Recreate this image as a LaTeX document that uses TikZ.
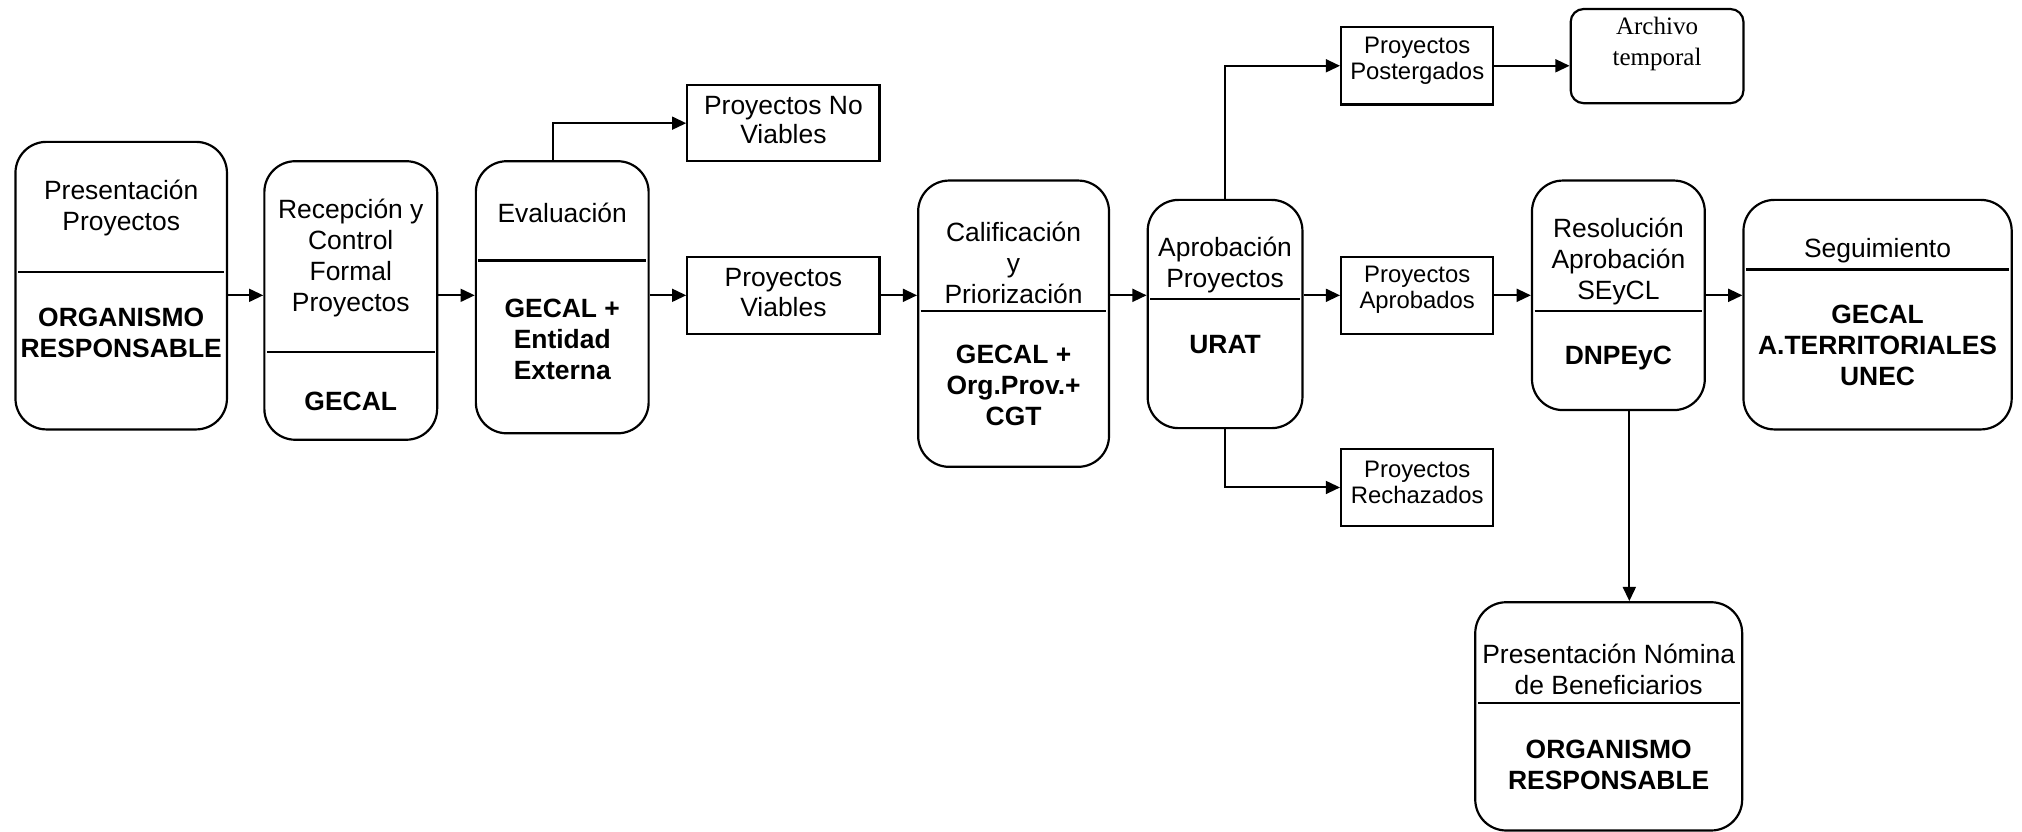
\documentclass[tikz,border=0pt]{standalone}
\usepackage{fontspec}
\setmainfont{Liberation Sans}
\newfontfamily\serifarch{Liberation Serif}
\usetikzlibrary{arrows.meta}
\begin{document}
\begin{tikzpicture}[x=0.5pt,y=-0.5pt,
 rbox/.style={draw,line width=0.85pt,rounded corners=12pt,inner sep=0pt},
 sbox/.style={draw,line width=0.85pt,inner sep=0pt},
 up/.style={inner sep=0pt,align=center,font=\fontsize{10.25}{12}\selectfont},
 low/.style={inner sep=0pt,align=center,font=\fontsize{10.25}{12}\selectfont\bfseries},
 mid/.style={inner sep=0pt,align=center,font=\fontsize{10.25}{11.5}\selectfont},
 sm/.style={inner sep=0pt,align=center,font=\fontsize{9.25}{10}\selectfont},
 arr/.style={line width=0.8pt,-{Triangle[length=5.5pt,width=5pt]}},
 div/.style={line width=0.85pt}]
\useasboundingbox (0,0) rectangle (1568,645);

% Presentacion Proyectos
\node[rbox,minimum width=82pt,minimum height=111.5pt] (b1) at (94,221.5) {};
\node[up] (b1t) at (94,161) {Presentación\\Proyectos};
\node[low] (b1b) at (94,258) {ORGANISMO\\RESPONSABLE};
\draw[div] (14,211) -- (174,211);

% Recepcion
\node[rbox,minimum width=67pt,minimum height=108pt] (b2) at (272,233) {};
\node[up] (b2t) at (272,200) {Recepción y\\Control\\Formal\\Proyectos};
\node[low] (b2b) at (272,311) {GECAL};
\draw[div] (207,273) -- (337,273);

% Evaluacion
\node[rbox,minimum width=67pt,minimum height=105.5pt] (b3) at (436,230.5) {};
\node[up] (b3t) at (436,165) {Evaluación};
\node[low] (b3b) at (436,263) {GECAL +\\Entidad\\Externa};
\draw[div] (371,202) -- (501,202);

% No viables / viables
\node[sbox,minimum width=74.5pt,minimum height=29.5pt] (nv) at (607.5,95.5) {};
\node[mid] (nvt) at (607.5,93) {Proyectos No\\Viables};
\node[sbox,minimum width=74.5pt,minimum height=30pt] (v) at (607.5,229) {};
\node[mid] (vt) at (607.5,227) {Proyectos\\Viables};

% Calificacion
\node[rbox,minimum width=74pt,minimum height=111pt] (b4) at (786,251) {};
\node[up] (b4t) at (786,204) {Calificación\\y\\Priorización};
\node[low] (b4b) at (786,299) {GECAL +\\Org.Prov.+\\CGT};
\draw[div] (714,241) -- (858,241);

% Aprobacion
\node[rbox,minimum width=60pt,minimum height=88.5pt] (b5) at (950,243.5) {};
\node[up] (b5t) at (950,205.5) {Aprobación\\Proyectos};
\node[low] (b5b) at (950,267) {URAT};
\draw[div] (892,232) -- (1008,232);

% Small boxes
\node[sbox,minimum width=59pt,minimum height=30pt] (pp) at (1099,51) {};
\node[sm] (ppt) at (1099,47) {Proyectos\\Postergados};
\node[sbox,minimum width=59pt,minimum height=30pt] (pa) at (1099,229) {};
\node[sm] (pat) at (1099,225) {Proyectos\\Aprobados};
\node[sbox,minimum width=59pt,minimum height=30pt] (pr) at (1099,378) {};
\node[sm] (prt) at (1099,374) {Proyectos\\Rechazados};

% Archivo temporal
\node[draw,line width=0.85pt,rounded corners=5pt,inner sep=0pt,minimum width=67pt,minimum height=36.5pt] (at) at (1285,43.5) {};
\node[inner sep=0pt,align=center,font=\serifarch\fontsize{9.7}{12}\selectfont] (att) at (1285,34) {Archivo\\temporal};

% Resolucion
\node[rbox,minimum width=67pt,minimum height=89pt] (b6) at (1255,229) {};
\node[up] (b6t) at (1255,202.5) {Resolución\\Aprobación\\SEyCL};
\node[low] (b6b) at (1255,278) {DNPEyC};
\draw[div] (1190,241) -- (1320,241);

% Seguimiento
\node[rbox,minimum width=104pt,minimum height=89pt] (b7) at (1456,244) {};
\node[up] (b7t) at (1456,194) {Seguimiento};
\node[low] (b7b) at (1456,268) {GECAL\\A.TERRITORIALES\\UNEC};
\draw[div] (1354,209) -- (1558,209);

% Nomina
\node[rbox,minimum width=103.5pt,minimum height=88.5pt] (b8) at (1247.5,555.5) {};
\node[up] (b8t) at (1247.5,519) {Presentación Nómina\\de Beneficiarios};
\node[low] (b8b) at (1247.5,593) {ORGANISMO\\RESPONSABLE};
\draw[div] (1146,545) -- (1349,545);

% Connectors
\draw[arr] (b1.east |- v.center) -- (b2.west |- v.center);
\draw[arr] (b2.east |- v.center) -- (b3.west |- v.center);
\draw[arr] (b3.east |- v.center) -- (v.west);
\draw[arr] ([xshift=-3.5pt]b3.north) |- (nv.west);
\draw[arr] (v.east) -- (b4.west |- v.center);
\draw[arr] (b4.east |- v.center) -- (b5.west |- v.center);
\draw[arr] (b5.east |- v.center) -- (pa.west);
\draw[arr] (b5.north) |- (pp.west);
\draw[arr] (b5.south) |- (pr.west);
\draw[arr] (pp.east) -- (at.west |- pp.east);
\draw[arr] (pa.east) -- (b6.west |- pa.center);
\draw[arr] (b6.east |- pa.center) -- (b7.west |- pa.center);
\draw[arr] ([xshift=4.25pt]b6.south) -- ([xshift=4.25pt]b6.south |- b8.north);
\end{tikzpicture}
\end{document}
